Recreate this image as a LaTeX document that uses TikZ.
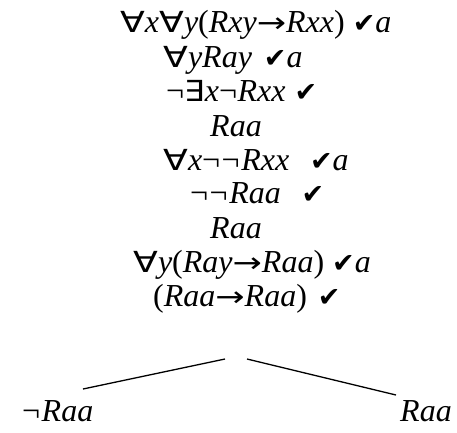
\documentclass[tikz,border=0pt]{standalone}
\usepackage{fontspec}
\usepackage{graphicx}
\setmainfont{Liberation Serif}
\newfontfamily\symfont{DejaVu Sans}
\newcommand{\qall}{\scalebox{1.25}[1]{\symfont\fontsize{29}{30}\selectfont ∀}}
\newcommand{\qex}{\scalebox{1.1}[1]{\symfont\fontsize{29}{30}\selectfont ∃}}
\newcommand{\ck}{{\symfont\fontsize{27}{30}\selectfont ✔}}
\newcommand{\ngt}{¬\hspace{1.5pt}}
\newcommand{\implarr}{\scalebox{1.25}[1]{\symfont\fontsize{28}{30}\selectfont →}}
\begin{document}
\begin{tikzpicture}[x=1pt,y=1pt,
  line/.style={anchor=base west, inner sep=0pt, font=\fontsize{32}{34}\selectfont},
  branch/.style={line width=1.3pt}]
\useasboundingbox (0,0) rectangle (457,-432);
\node[line] (l1) at (120,-32) {\qall\textit{x}\qall\textit{y}(\textit{Rxy}\implarr\textit{Rxx}) \ck\textit{a}};
\node[line] (l2) at (163,-67) {\qall\textit{yRay}\hspace{4pt} \ck\textit{a}};
\node[line] (l3) at (166,-101) {¬\hspace{0.5pt}\qex\textit{x}¬\hspace{0.5pt}\textit{Rxx}\hspace{1pt} \ck};
\node[line] (l4) at (210,-136) {\textit{Raa}};
\node[line] (l5) at (163,-170) {\qall\textit{x}\ngt\ngt\textit{Rxx}\hspace{0.4em} \ck\textit{a}};
\node[line] (l6) at (190,-203) {\ngt\ngt\textit{Raa}\hspace{0.4em} \ck};
\node[line] (l7) at (210,-238) {\textit{Raa}};
\node[line] (l8) at (133,-272) {\qall\textit{y}(\textit{Ray}\implarr\textit{Raa}) \ck\textit{a}};
\node[line] (l9) at (153,-306) {(\textit{Raa}\implarr\textit{Raa})\hspace{3pt} \ck};
\node[line] (bl) at (22,-421) {\ngt\textit{Raa}};
\node[line] (br) at (400,-421) {\textit{Raa}};
\coordinate (tl) at (225,-359);
\coordinate (tr) at (247,-359);
\coordinate (el) at (83,-389);
\coordinate (er) at (396,-395);
\draw[branch] (tl) -- (el);
\draw[branch] (tr) -- (er);
\end{tikzpicture}
\end{document}
